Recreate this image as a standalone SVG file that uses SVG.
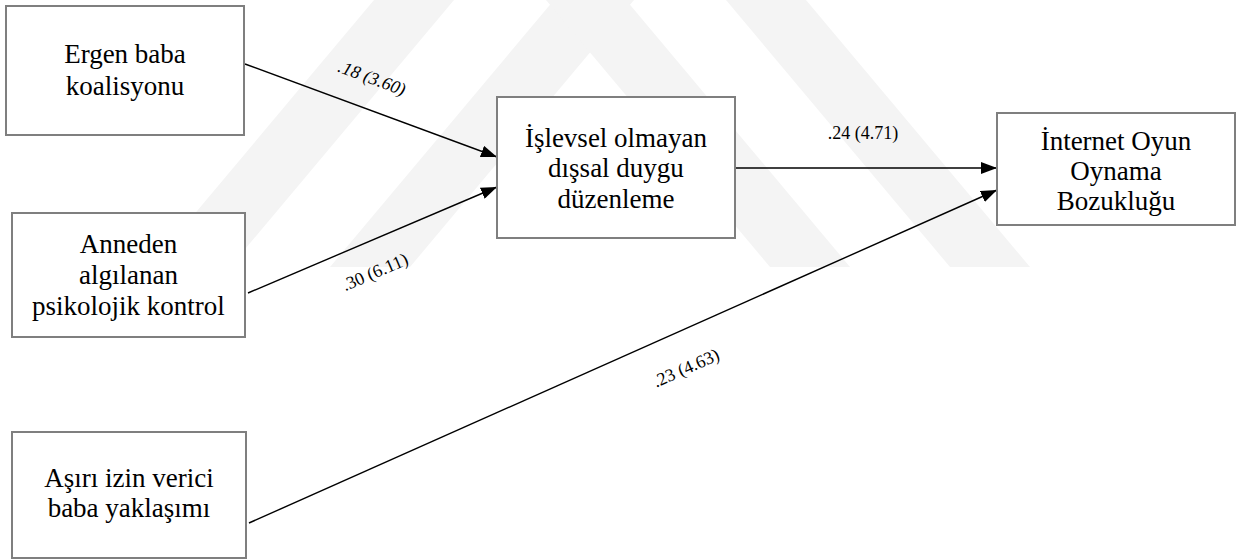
<svg xmlns="http://www.w3.org/2000/svg" width="1244" height="560" viewBox="0 0 1244 560">
  <defs>
    <marker id="arrow" viewBox="0 0 16 12" refX="16" refY="6" markerWidth="16" markerHeight="12" markerUnits="userSpaceOnUse" orient="auto">
      <path d="M0,0 L16,6 L0,12 Z" fill="#000"/>
    </marker>
    <clipPath id="wmclip"><rect x="0" y="0" width="1244" height="267"/></clipPath>
  </defs>
  <style>
    .box { fill: #fff; stroke: #7f7f7f; stroke-width: 2; }
    .lbl { font-size: 27px; fill: #000; text-anchor: middle; }
    .coef { font-size: 18px; fill: #000; text-anchor: middle; }
    .edge { stroke: #000; stroke-width: 1.4; fill: none; marker-end: url(#arrow); }
    .wm { fill: #f4f4f4; }
  </style>
  <rect x="0" y="0" width="1244" height="560" fill="#fff"/>
  <g id="watermark" clip-path="url(#wmclip)">
    <polygon class="wm" points="150,267 230,267 454,0 374,0"/>
    <polygon class="wm" points="330,267 410,267 634,0 554,0"/>
    <polygon class="wm" points="770,267 850,267 626,0 546,0"/>
    <polygon class="wm" points="950,267 1030,267 806,0 726,0"/>
  </g>
  <g font-family="Liberation Serif, DejaVu Serif, serif">
  <g id="connectors">
    <line class="edge" x1="245" y1="64" x2="497" y2="157"/>
    <line class="edge" x1="248" y1="293" x2="497" y2="187"/>
    <line class="edge" x1="249" y1="523" x2="997" y2="190"/>
    <line class="edge" x1="735" y1="168" x2="997" y2="168"/>
    <text class="coef" font-style="italic" transform="translate(372,78) rotate(20.4)" x="0" y="6">.18 (3.60)</text>
    <text class="coef" transform="translate(375,272) rotate(-23.3)" x="0" y="6">.30 (6.11)</text>
    <text class="coef" transform="translate(686,368) rotate(-24)" x="0" y="6">.23 (4.63)</text>
    <text class="coef" x="863" y="139">.24 (4.71)</text>
  </g>
  <g id="node-ergen">
    <rect class="box" x="6" y="6" width="238" height="129"/>
    <text class="lbl" x="125" y="63">Ergen baba</text>
    <text class="lbl" x="125" y="95">koalisyonu</text>
  </g>
  <g id="node-anneden">
    <rect class="box" x="12" y="213" width="233" height="124"/>
    <text class="lbl" x="128.5" y="253">Anneden</text>
    <text class="lbl" x="128.5" y="284">algılanan</text>
    <text class="lbl" x="128.5" y="315">psikolojik kontrol</text>
  </g>
  <g id="node-asiri">
    <rect class="box" x="12" y="432" width="234" height="126"/>
    <text class="lbl" x="129" y="487">Aşırı izin verici</text>
    <text class="lbl" x="129" y="517">baba yaklaşımı</text>
  </g>
  <g id="node-islevsel">
    <rect class="box" x="497" y="97" width="238" height="141"/>
    <text class="lbl" x="616" y="147">İşlevsel olmayan</text>
    <text class="lbl" x="616" y="177">dışsal duygu</text>
    <text class="lbl" x="616" y="208">düzenleme</text>
  </g>
  <g id="node-internet">
    <rect class="box" x="997" y="113" width="238" height="112"/>
    <text class="lbl" x="1116" y="150">İnternet Oyun</text>
    <text class="lbl" x="1116" y="180">Oynama</text>
    <text class="lbl" x="1116" y="210">Bozukluğu</text>
  </g>
  </g>
</svg>
